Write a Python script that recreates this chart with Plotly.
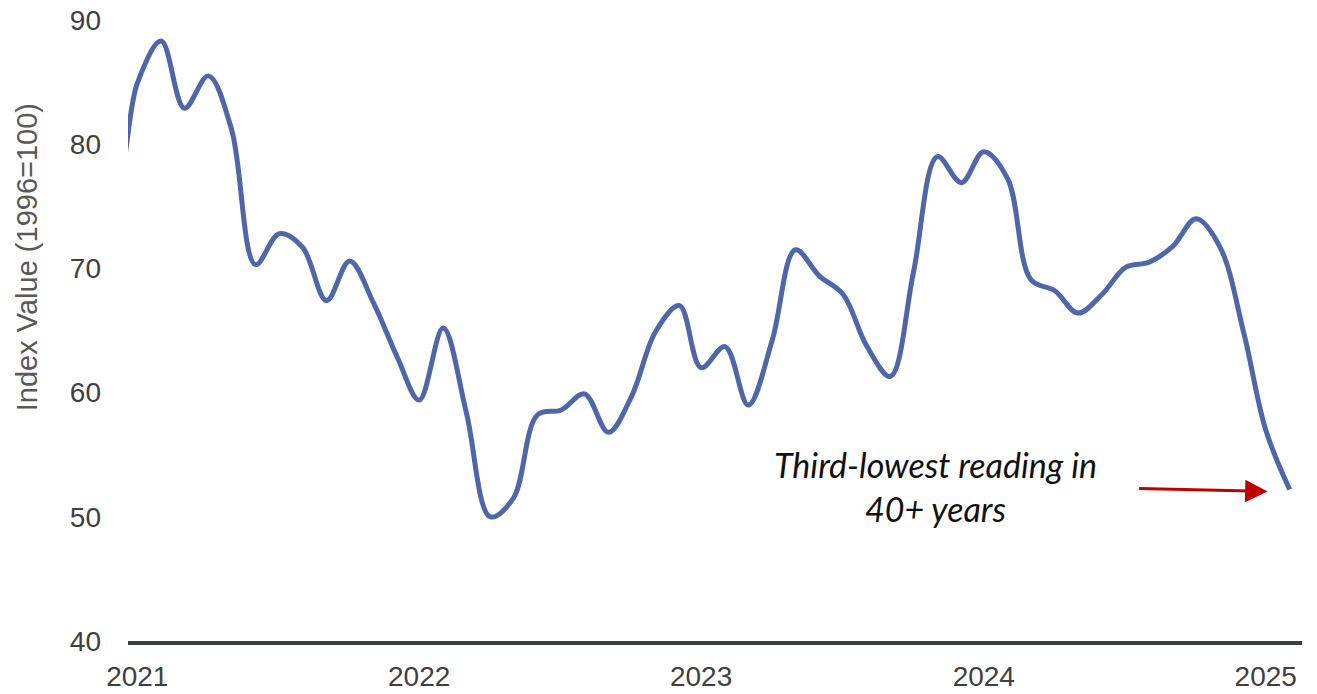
import plotly.graph_objects as go

# Monthly index readings, Jan 2021 - Apr 2025
months = [
    "2021-01-01", "2021-02-01", "2021-03-01", "2021-04-01", "2021-05-01", "2021-06-01",
    "2021-07-01", "2021-08-01", "2021-09-01", "2021-10-01", "2021-11-01", "2021-12-01",
    "2022-01-01", "2022-02-01", "2022-03-01", "2022-04-01", "2022-05-01", "2022-06-01",
    "2022-07-01", "2022-08-01", "2022-09-01", "2022-10-01", "2022-11-01", "2022-12-01",
    "2023-01-01", "2023-02-01", "2023-03-01", "2023-04-01", "2023-05-01", "2023-06-01",
    "2023-07-01", "2023-08-01", "2023-09-01", "2023-10-01", "2023-11-01", "2023-12-01",
    "2024-01-01", "2024-02-01", "2024-03-01", "2024-04-01", "2024-05-01", "2024-06-01",
    "2024-07-01", "2024-08-01", "2024-09-01", "2024-10-01", "2024-11-01", "2024-12-01",
    "2025-01-01", "2025-02-01", "2025-03-01", "2025-04-01",
]
index_values = [
    79.0, 76.8, 84.9, 88.3, 82.9, 85.5, 81.2, 70.3, 72.8, 71.7, 67.4, 70.6,
    67.2, 62.8, 59.4, 65.2, 58.4, 50.0, 51.5, 58.2, 58.6, 59.9, 56.8, 59.7,
    64.9, 67.0, 62.0, 63.7, 59.0, 64.2, 71.5, 69.4, 67.9, 63.8, 61.3, 69.7,
    79.0, 76.9, 79.4, 77.2, 69.1, 68.2, 66.4, 67.9, 70.1, 70.5, 71.8, 74.0,
    71.7, 64.7, 57.0, 52.2,
]

year_ticks = ["2021-03-01", "2022-03-01", "2023-03-01", "2024-03-01", "2025-03-01"]
year_labels = ["2021", "2022", "2023", "2024", "2025"]
y_ticks = [40, 50, 60, 70, 80, 90]

LINE_BLUE = "#4F67A8"
AXIS_GREY = "#3c3f3f"
TICK_GREY = "#404040"

fig = go.Figure()
fig.add_trace(go.Scatter(
    x=months,
    y=index_values,
    mode="lines",
    line=dict(color=LINE_BLUE, width=5, shape="spline", smoothing=1.0),
    hoverinfo="x+y",
    showlegend=False,
))

# Callout text and arrow pointing at the latest reading
fig.add_annotation(
    text="<i>Third-lowest reading in<br>40+ years</i>",
    xref="paper", yref="paper",
    x=0.688, y=0.248,
    xanchor="center", yanchor="middle",
    showarrow=False,
    align="center",
    font=dict(family="Lato, Noto Sans, sans-serif", size=34, color="#111111"),
)
fig.add_annotation(
    text="",
    xref="x", yref="y",
    x=months[-1], y=index_values[-1],
    xshift=-22, yshift=-2,
    ax=-130, ay=-3,
    showarrow=True,
    arrowhead=2,
    arrowsize=1.5,
    arrowwidth=3,
    arrowcolor="#C00000",
)

# Vertical axis title
fig.add_annotation(
    text="Index Value (1996=100)",
    xref="paper", yref="paper",
    x=0, y=0.618,
    xshift=-101,
    xanchor="center", yanchor="middle",
    textangle=-90,
    showarrow=False,
    font=dict(family="Liberation Sans, Arial, sans-serif", size=29, color="#595959"),
)

fig.update_layout(
    width=1317,
    height=694,
    margin=dict(l=128, r=15, t=20, b=53),
    paper_bgcolor="white",
    plot_bgcolor="white",
    font=dict(family="Liberation Sans, Arial, sans-serif", color=TICK_GREY, size=28),
    xaxis=dict(
        type="date",
        range=["2021-02-17", "2025-04-17"],
        tickvals=year_ticks,
        ticktext=year_labels,
        showgrid=False,
        zeroline=False,
        showline=True,
        linecolor=AXIS_GREY,
        linewidth=4,
        ticks="",
        ticklabelstandoff=7,
        tickfont=dict(size=28, color=TICK_GREY),
        automargin=False,
    ),
    yaxis=dict(
        range=[40, 90],
        tickvals=y_ticks,
        showgrid=False,
        zeroline=False,
        showline=False,
        ticks="",
        ticklabelstandoff=26,
        tickfont=dict(size=28, color=TICK_GREY),
        automargin=False,
    ),
)

fig.write_html("out.html")
